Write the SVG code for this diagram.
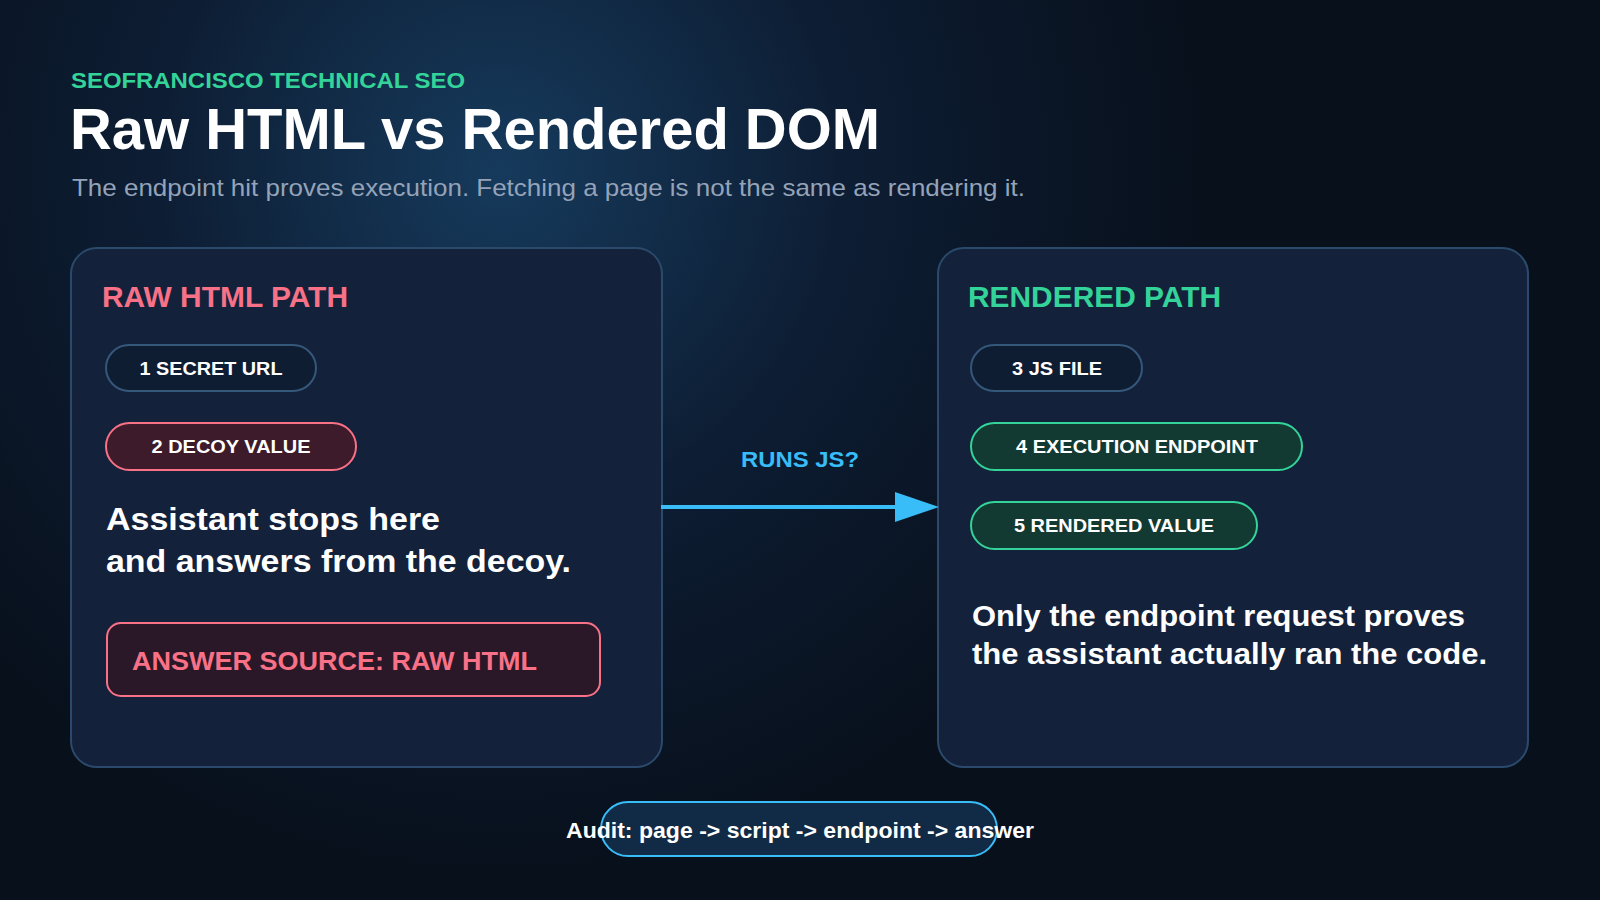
<svg xmlns="http://www.w3.org/2000/svg" width="1600" height="900" viewBox="0 0 1600 900">
<defs>
<radialGradient id="glow" cx="500" cy="170" r="700" gradientUnits="userSpaceOnUse">
<stop offset="0" stop-color="#163a5c"/><stop offset="0.5" stop-color="#0d1d33"/><stop offset="1" stop-color="#08101c"/>
</radialGradient>
<marker id="ah" viewBox="0 0 44 30" refX="2" refY="15" markerWidth="44" markerHeight="30" markerUnits="userSpaceOnUse" orient="auto"><path d="M0 0L44 15L0 30Z" fill="#38bdf8"/></marker>
<style>
text{font-family:"Liberation Sans",Arial,sans-serif;font-weight:bold}
.panel{fill:#13213b;stroke:#2b4a6b;stroke-width:2}
.pill{fill:#0f1d33;stroke:#35587a;stroke-width:2}
.red{fill:#3d1b2a;stroke:#f87187;stroke-width:2}
.grn{fill:#123a32;stroke:#34d399;stroke-width:2}
.pt{fill:#fff;font-size:19px;text-anchor:middle}
.body{fill:#fff;font-size:31px}
</style>
</defs>
<rect width="1600" height="900" fill="url(#glow)"/>
<text x="71" y="88" font-size="22" fill="#34d399" textLength="394" lengthAdjust="spacingAndGlyphs">SEOFRANCISCO TECHNICAL SEO</text>
<text x="70" y="149" font-size="57" fill="#fff" textLength="810" lengthAdjust="spacingAndGlyphs">Raw HTML vs Rendered DOM</text>
<text x="72" y="196" font-size="24" fill="#94a3b8" style="font-weight:normal" textLength="953" lengthAdjust="spacingAndGlyphs">The endpoint hit proves execution. Fetching a page is not the same as rendering it.</text>
<g id="raw-panel"><rect class="panel" x="71" y="248" width="591" height="519" rx="26"/>
<text x="102" y="307" font-size="29" fill="#f87187" textLength="246" lengthAdjust="spacingAndGlyphs">RAW HTML PATH</text></g>
<g id="n1"><rect class="pill" x="106" y="345" width="210" height="46" rx="23"/><text class="pt" x="211" y="375" textLength="143" lengthAdjust="spacingAndGlyphs">1 SECRET URL</text></g>
<g id="n2"><rect class="red" x="106" y="423" width="250" height="47" rx="23.5"/><text class="pt" x="231" y="453" textLength="159" lengthAdjust="spacingAndGlyphs">2 DECOY VALUE</text></g>
<g id="raw-text"><text class="body" x="106" y="530" textLength="334" lengthAdjust="spacingAndGlyphs">Assistant stops here</text><text class="body" x="106" y="572" textLength="465" lengthAdjust="spacingAndGlyphs">and answers from the decoy.</text></g>
<g id="answer"><rect x="107" y="623" width="493" height="73" rx="14" fill="#2a1828" stroke="#f87187" stroke-width="2"/><text x="132" y="670" font-size="26" fill="#f87187" textLength="405" lengthAdjust="spacingAndGlyphs">ANSWER SOURCE: RAW HTML</text></g>
<g id="rendered-panel"><rect class="panel" x="938" y="248" width="590" height="519" rx="26"/>
<text x="968" y="307" font-size="29" fill="#34d399" textLength="253" lengthAdjust="spacingAndGlyphs">RENDERED PATH</text></g>
<g id="n3"><rect class="pill" x="971" y="345" width="171" height="46" rx="23"/><text class="pt" x="1057" y="375" textLength="90" lengthAdjust="spacingAndGlyphs">3 JS FILE</text></g>
<g id="n4"><rect class="grn" x="971" y="423" width="331" height="47" rx="23.5"/><text class="pt" x="1137" y="453" textLength="242" lengthAdjust="spacingAndGlyphs">4 EXECUTION ENDPOINT</text></g>
<g id="n5"><rect class="grn" x="971" y="502" width="286" height="47" rx="23.5"/><text class="pt" x="1114" y="532" textLength="200" lengthAdjust="spacingAndGlyphs">5 RENDERED VALUE</text></g>
<g id="rendered-text"><text class="body" x="972" y="626" style="font-size:29px" textLength="493" lengthAdjust="spacingAndGlyphs">Only the endpoint request proves</text><text class="body" x="972" y="664" style="font-size:29px" textLength="515" lengthAdjust="spacingAndGlyphs">the assistant actually ran the code.</text></g>
<g id="connectors"><line x1="661" y1="507" x2="897" y2="507" stroke="#38bdf8" stroke-width="4" marker-end="url(#ah)"/>
<text x="800" y="467" font-size="22" fill="#38bdf8" text-anchor="middle" textLength="118" lengthAdjust="spacingAndGlyphs">RUNS JS?</text></g>
<g id="audit"><rect x="601" y="802" width="396" height="54" rx="27" fill="#112a45" stroke="#38bdf8" stroke-width="2"/><text x="800" y="838" font-size="22" fill="#fff" text-anchor="middle" textLength="468" lengthAdjust="spacingAndGlyphs">Audit: page -&gt; script -&gt; endpoint -&gt; answer</text></g>
</svg>
